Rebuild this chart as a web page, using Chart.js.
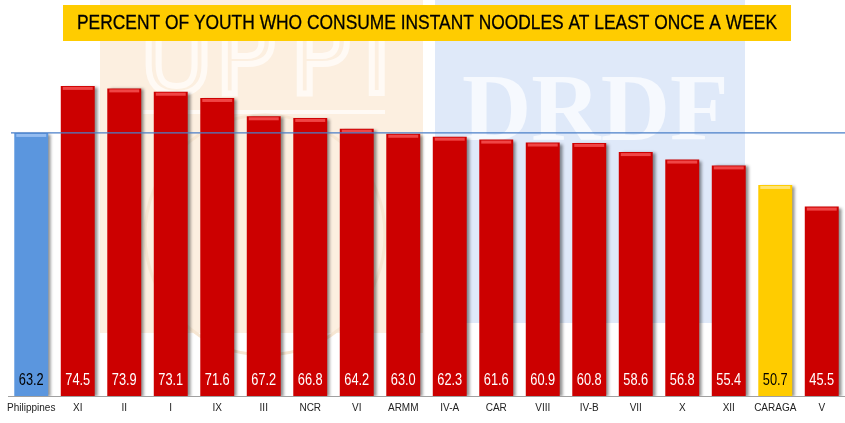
<!DOCTYPE html>
<html>
<head>
<meta charset="utf-8">
<script src="https://cdn.jsdelivr.net/npm/chart.js@4.4.1/dist/chart.umd.min.js"></script>
<style>
  html, body { margin: 0; padding: 0; background: #fff; }
  #wrap { position: relative; width: 845px; height: 423px; }
</style>
</head>
<body>
<div id="wrap"><canvas id="noodle_chart" width="845" height="423"></canvas></div>
<script>
// data dari slide
const title_text = "PERCENT OF YOUTH WHO CONSUME INSTANT NOODLES AT LEAST ONCE A WEEK";
const regions = ['Philippines', 'XI', 'II', 'I', 'IX', 'III', 'NCR', 'VI', 'ARMM', 'IV-A',
                 'CAR', 'VIII', 'IV-B', 'VII', 'X', 'XII', 'CARAGA', 'V'];
const percent = [63.2, 74.5, 73.9, 73.1, 71.6, 67.2, 66.8, 64.2, 63.0, 62.3,
                 61.6, 60.9, 60.8, 58.6, 56.8, 55.4, 50.7, 45.5];
const national_label = 'Philippines';
const highlight_label = 'CARAGA';

// font narrow tidak ada, jadi teks di canvas dipadatkan manual
const sans = "'Liberation Sans', Arial, sans-serif";
const squeeze = 0.8;

// warna bar
function bar_color(label) {
  if (label === national_label) return '#5b96de';
  if (label === highlight_label) return '#ffcc00';
  return '#cc0000';
}
function bar_light(label) {
  if (label === national_label) return '#94bcf0';
  if (label === highlight_label) return '#ffe470';
  return '#f04545';
}

function narrow_text(c, txt, x, y) {
  c.save();
  c.translate(x, y);
  c.scale(squeeze, 1);
  c.fillText(txt, 0, 0);
  c.restore();
}

// background logo (watermark pudar)
const watermark = {
  id: 'watermark',
  beforeDraw(chart) {
    const c = chart.ctx;
    c.save();
    c.fillStyle = '#fcefe0';
    c.fillRect(100, 0, 323, 333);
    c.strokeStyle = '#fffaf5';
    c.lineWidth = 6;
    c.font = "100px 'DejaVu Sans'";
    c.textBaseline = 'alphabetic';
    c.strokeText('U', 140, 93);
    c.strokeText('P', 215, 93);
    c.strokeText('P', 290, 93);
    c.strokeText('I', 362, 93);
    c.fillStyle = '#fffaf5';
    c.fillRect(143, 110, 242, 4);
    c.beginPath();
    c.arc(265, 235, 120, 0, Math.PI * 2);
    c.lineWidth = 3;
    c.strokeStyle = '#f7e6d2';
    c.stroke();

    c.fillStyle = '#dfe9f9';
    c.beginPath();
    c.roundRect(435, -20, 310, 343, 22);
    c.fill();
    c.fillStyle = '#f6f9fe';
    c.font = "bold 96px 'Liberation Serif'";
    c.fillText('DRDF', 462, 140);
    c.restore();
  }
};

// judul kotak kuning
const title_box = {
  id: 'title_box',
  afterDraw(chart) {
    const c = chart.ctx;
    c.save();
    c.fillStyle = '#ffcc00';
    c.fillRect(63, 5, 728, 36);
    c.fillStyle = '#000';
    c.strokeStyle = '#000';
    c.lineWidth = 0.3;
    c.font = "21px " + sans;
    c.textAlign = 'center';
    c.textBaseline = 'middle';
    const w = c.measureText(title_text).width;
    c.translate(427, 23);
    c.scale(700 / w, 1);
    c.fillText(title_text, 0, 0);
    c.strokeText(title_text, 0, 0);
    c.restore();
  }
};

// bayangan bar
const bar_shadow = {
  id: 'bar_shadow',
  beforeDatasetsDraw(chart) {
    const c = chart.ctx;
    c.save();
    c.shadowColor = 'rgba(0,0,0,0.45)';
    c.shadowOffsetX = 3;
    c.shadowOffsetY = 1;
    c.shadowBlur = 3;
  },
  afterDatasetsDraw(chart) {
    chart.ctx.restore();
  }
};

// highlight atas, garis nasional, label nilai
const bar_extra = {
  id: 'bar_extra',
  afterDatasetsDraw(chart) {
    const c = chart.ctx;
    const meta = chart.getDatasetMeta(0);
    const y_scale = chart.scales.y;
    const area = chart.chartArea;
    c.save();
    meta.data.forEach(function (bar, i) {
      const half = bar.width / 2;
      c.fillStyle = bar_light(regions[i]);
      c.fillRect(bar.x - half + 2, bar.y + 1, bar.width - 4, 3);
    });

    const y_nat = y_scale.getPixelForValue(percent[regions.indexOf(national_label)]);
    c.strokeStyle = '#4a7fc8';
    c.lineWidth = 1.2;
    c.beginPath();
    c.moveTo(11, y_nat);
    c.lineTo(area.right, y_nat);
    c.stroke();

    c.font = "16px " + sans;
    c.textAlign = 'center';
    c.textBaseline = 'middle';
    meta.data.forEach(function (bar, i) {
      const lbl = regions[i];
      c.fillStyle = (lbl === national_label || lbl === highlight_label) ? '#000' : '#fff';
      narrow_text(c, percent[i].toFixed(1), bar.x, area.bottom - 15);
    });
    c.restore();
  }
};

const ctx = document.getElementById('noodle_chart');

new Chart(ctx, {
  type: 'bar',
  data: {
    labels: regions,
    datasets: [{
      data: percent,
      backgroundColor: regions.map(bar_color),
      borderWidth: 0,
      categoryPercentage: 1,
      barPercentage: 0.73
    }]
  },
  options: {
    responsive: false,
    animation: false,
    devicePixelRatio: 1,
    layout: { padding: { top: 63, left: 8, right: 0, bottom: 3 } },
    scales: {
      x: {
        grid: { display: false, drawTicks: false },
        border: { display: true, color: '#a0a0a0', width: 1 },
        ticks: {
          color: '#222',
          font: { family: sans, size: 10 },
          padding: 6,
          maxRotation: 0,
          autoSkip: false
        }
      },
      y: {
        display: false,
        min: 0,
        max: 80
      }
    },
    plugins: {
      legend: { display: false },
      tooltip: { enabled: false }
    }
  },
  plugins: [watermark, bar_shadow, bar_extra, title_box]
});
</script>
</body>
</html>
